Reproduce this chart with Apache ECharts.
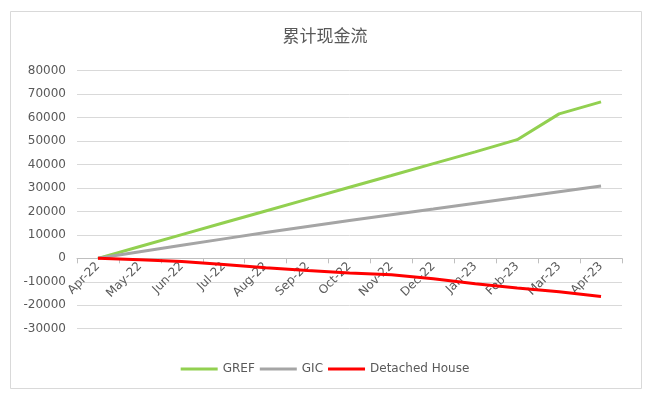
<!DOCTYPE html>
<html>
<head>
<meta charset="utf-8">
<script src="https://cdn.jsdelivr.net/npm/echarts@6/dist/echarts.min.js"></script>
<style>
	html, body { margin: 0; padding: 0; background: #fff; }
	#chart { width: 650px; height: 399px; }
</style>
</head>
<body>
<div id="chart"></div>
<script>
//横轴月份
var months = ['Apr-22', 'May-22', 'Jun-22', 'Jul-22', 'Aug-22', 'Sep-22', 'Oct-22',
	'Nov-22', 'Dec-22', 'Jan-23', 'Feb-23', 'Mar-23', 'Apr-23'];

//各系列累计现金流
var gref = [0, 5050, 10100, 15150, 20200, 25250, 30300, 35300, 40400, 45400, 50600, 61600, 66700];
var gic = [0, 2800, 5600, 8300, 11000, 13600, 16100, 18600, 21000, 23500, 25900, 28400, 30800];
var detachedHouse = [0, -600, -1400, -2600, -4000, -5200, -6300, -7000, -8700, -10800, -12600, -14200, -16300];

var seriesNames = ['GREF', 'GIC', 'Detached House'];
var seriesColors = ['#92D050', '#A5A5A5', '#FF0000'];

var textColor = '#595959';
var font = 'DejaVu Sans';

function buildSeries() {
	var all = [gref, gic, detachedHouse];
	var series = [];
	for (var i in all) {
		series.push({
			name : seriesNames[i],
			type : 'line',
			data : all[i],
			xAxisIndex : 0,
			yAxisIndex : 0,
			symbol : 'none',
			smooth : false,
			lineStyle : { width : 3, color : seriesColors[i] },
			itemStyle : { color : seriesColors[i] }
		});
	}
	return series;
}

//图例用细矩形代替带圆点的线
function buildLegendData() {
	var data = [];
	for (var i in seriesNames) {
		data.push({ name : seriesNames[i], icon : 'rect' });
	}
	return data;
}

var chart = echarts.init(document.getElementById('chart'));

var option = {
	animation : false,
	backgroundColor : '#fff',
	color : seriesColors,
	graphic : [ {
		type : 'rect',
		shape : { x : 10.5, y : 11.5, width : 631, height : 377 },
		style : { fill : 'none', stroke : '#D9D9D9', lineWidth : 1 },
		z : -10
	} ],
	title : {
		text : '累计现金流',
		left : 'center',
		top : 22,
		textStyle : {
			color : textColor,
			fontSize : 17,
			fontWeight : 'normal',
			fontFamily : 'Noto Sans CJK SC'
		}
	},
	legend : {
		data : buildLegendData(),
		left : 'center',
		top : 357,
		itemWidth : 37,
		itemHeight : 3,
		itemGap : 5,
		textStyle : { color : textColor, fontSize : 12, fontFamily : font, lineHeight : 14 }
	},
	grid : [ {
		left : 77,
		right : 28,
		top : 70.7,
		bottom : 70.3,
		containLabel : false
	}, {
		//只用来放x轴标签，底边落在0线上
		left : 77,
		right : 28,
		top : 70.7,
		bottom : 139.7,
		containLabel : false
	} ],
	xAxis : [ {
		type : 'category',
		gridIndex : 0,
		data : months,
		boundaryGap : true,
		axisLine : { onZero : true, lineStyle : { color : '#BFBFBF', width : 1 } },
		axisTick : { show : true, length : 5, interval : 0, lineStyle : { color : '#BFBFBF' } },
		axisLabel : { show : false },
		splitLine : { show : false }
	}, {
		type : 'category',
		gridIndex : 1,
		data : months,
		boundaryGap : true,
		axisLine : { show : false },
		axisTick : { show : false },
		axisLabel : {
			interval : 0,
			rotate : 45,
			margin : 5,
			color : textColor,
			fontSize : 12,
			fontFamily : font
		},
		splitLine : { show : false }
	} ],
	yAxis : [ {
		type : 'value',
		gridIndex : 0,
		min : -30000,
		max : 80000,
		interval : 10000,
		axisLine : { show : false },
		axisTick : { show : false },
		axisLabel : {
			color : textColor,
			fontSize : 12,
			fontFamily : font,
			margin : 11,
			formatter : function(value) {
				return String(value);
			}
		},
		splitLine : { lineStyle : { color : '#D9D9D9', width : 1 } }
	}, {
		type : 'value',
		gridIndex : 1,
		show : false
	} ],
	series : buildSeries()
};

chart.setOption(option, true);
</script>
</body>
</html>
